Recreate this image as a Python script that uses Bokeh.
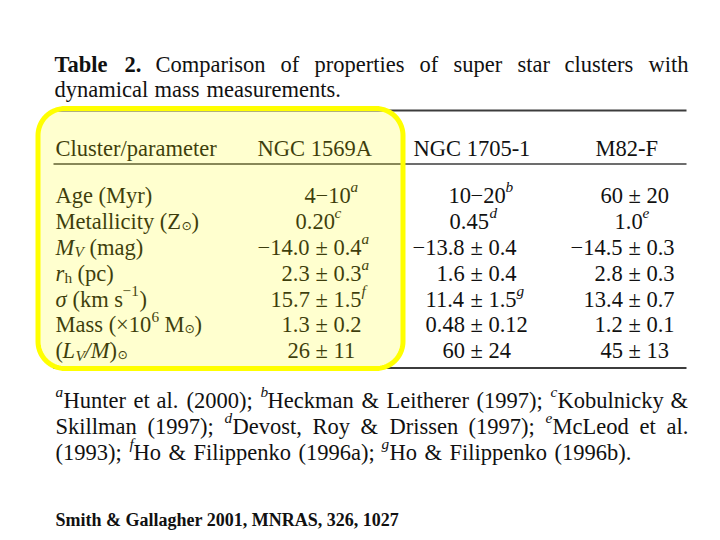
import numpy as np
from bokeh.plotting import figure
from bokeh.models import ColumnDataSource, Range1d
from bokeh.core.properties import value
from bokeh.embed import file_html
from bokeh.resources import INLINE

# ---------------- data ----------------
title_bold = ["Table", "2."]
title_words = ["Comparison", "of", "properties", "of", "super", "star", "clusters", "with"]
title_line2 = ["dynamical", "mass", "measurements."]

col_headers = ["Cluster/parameter", "NGC 1569A", "NGC 1705-1", "M82-F"]

param_labels = [
    [("Age (Myr)", "r")],
    [("Metallicity (Z", "r"), ("\u2299", "sym"), (")", "r")],
    [("M", "i"), ("V", "subi"), (" (mag)", "r")],
    [("r", "i"), ("h", "sub"), (" (pc)", "r")],
    [("\u03c3", "i"), (" (km s", "r"), ("\u22121", "sup"), (")", "r")],
    [("Mass (\u00d710", "r"), ("6", "sup"), (" M", "r"), ("\u2299", "sym"), (")", "r")],
    [("(", "r"), ("L", "i"), ("V", "subi"), ("/M", "i"), (")", "r"), ("\u2299", "sym")],
]

ngc1569a = ["4\u221210", "0.20", "\u221214.0 \u00b1 0.4", "2.3 \u00b1 0.3", "15.7 \u00b1 1.5", "1.3 \u00b1 0.2", "26 \u00b1 11"]
ngc1569a_ref = ["a", "c", "a", "a", "f", "", ""]
ngc1705 = ["10\u221220", "0.45", "\u221213.8 \u00b1 0.4", "1.6 \u00b1 0.4", "11.4 \u00b1 1.5", "0.48 \u00b1 0.12", "60 \u00b1 24"]
ngc1705_ref = ["b", "d", "", "", "g", "", ""]
m82f = ["60 \u00b1 20", "1.0", "\u221214.5 \u00b1 0.3", "2.8 \u00b1 0.3", "13.4 \u00b1 0.7", "1.2 \u00b1 0.1", "45 \u00b1 13"]
m82f_ref = ["", "e", "", "", "", "", ""]

footnote_keys = ["a", "b", "c", "d", "e", "f", "g"]
footnote_refs = ["Hunter et al. (2000);", "Heckman & Leitherer (1997);",
                 "Kobulnicky & Skillman (1997);", "Devost, Roy & Drissen (1997);",
                 "McLeod et al. (1993);", "Ho & Filippenko (1996a);",
                 "Ho & Filippenko (1996b)."]
footnote_breaks = [10, 10]   # words per justified line

citation = "Smith & Gallagher 2001, MNRAS, 326, 1027"

# ---------------- font metrics (Times-compatible, /1000 em) ----------------
SERIF = "Liberation Serif"
SYMF = "DejaVu Sans"
TXT = "#111111"

TR = {' ': 250, '&': 778, '(': 333, ')': 333, ',': 250, '-': 333, '.': 250, '/': 278,
      ';': 278, ':': 278, '\u00b1': 564, '\u00d7': 564, '\u2212': 564}
TR.update({d: 500 for d in '0123456789'})
TR.update(dict(zip('ABCDEFGHIJKLMNOPQRSTUVWXYZ',
                   [722, 667, 667, 722, 611, 556, 722, 722, 333, 389, 722, 611, 889, 722, 722,
                    556, 722, 667, 556, 611, 722, 722, 944, 722, 722, 611])))
TR.update(dict(zip('abcdefghijklmnopqrstuvwxyz',
                   [444, 500, 444, 500, 444, 333, 500, 500, 278, 278, 500, 278, 778, 500, 500,
                    500, 500, 333, 389, 278, 500, 500, 722, 500, 500, 444])))
TB = {' ': 250, '&': 833, ',': 250, '.': 250}
TB.update({d: 500 for d in '0123456789'})
TB.update(dict(zip('ABCDEFGHIJKLMNOPQRSTUVWXYZ',
                   [722, 667, 722, 722, 667, 611, 778, 778, 389, 500, 778, 667, 944, 722, 778,
                    611, 778, 722, 556, 667, 722, 722, 1000, 722, 722, 667])))
TB.update(dict(zip('abcdefghijklmnopqrstuvwxyz',
                   [500, 556, 444, 556, 444, 333, 500, 556, 278, 333, 556, 278, 833, 556, 500,
                    556, 556, 444, 389, 333, 556, 500, 722, 500, 500, 444])))
TI = {' ': 250, '/': 278, '\u03c3': 500}
TI.update(dict(zip('ABCDEFGHIJKLMNOPQRSTUVWXYZ',
                   [611, 611, 667, 722, 611, 611, 722, 722, 333, 444, 667, 556, 833, 667, 722,
                    611, 722, 611, 500, 556, 722, 611, 833, 611, 556, 556])))
TI.update(dict(zip('abcdefghijklmnopqrstuvwxyz',
                   [500, 500, 444, 500, 444, 278, 500, 500, 278, 278, 444, 278, 722, 500, 500,
                    500, 500, 389, 389, 278, 500, 444, 667, 444, 444, 389])))
SYM = {'\u2299': 838}

KINDS = {
    'r':    (SERIF, 'normal', 1.0, 0.0, TR),
    'b':    (SERIF, 'bold', 1.0, 0.0, TB),
    'i':    (SERIF, 'italic', 1.0, 0.0, TI),
    'sup':  (SERIF, 'normal', 0.68, -0.36, TR),
    'supi': (SERIF, 'italic', 0.68, -0.38, TI),
    'sub':  (SERIF, 'normal', 0.68, 0.2, TR),
    'subi': (SERIF, 'italic', 0.68, 0.2, TI),
    'sym':  (SYMF, 'normal', 0.55, 0.17, SYM),
}

groups = {}   # (font, style) -> columns


def run_w(s, kind, size):
    font, style, sc, dy, tab = KINDS[kind]
    return sum(tab.get(c, TR.get(c, 500)) for c in s) / 1000.0 * size * sc


def runs_w(runs, size):
    return sum(run_w(s, k, size) for s, k in runs)


def draw(x, y, runs, size):
    for s, k in runs:
        font, style, sc, dy, tab = KINDS[k]
        stripped = s.lstrip(" ")
        lead = s[:len(s) - len(stripped)]
        x0 = x + run_w(lead, k, size)
        body = stripped.rstrip(" ")
        if body:
            g = groups.setdefault((font, style), dict(x=[], y=[], text=[], size=[]))
            g['x'].append(float(round(x0)))
            g['y'].append(float(round(y + dy * size)))
            g['text'].append(body)
            g['size'].append("%.1fpx" % (size * sc))
        x += run_w(s, k, size)
    return x


def justify(words, x0, x1, y, size):
    ws = [runs_w(w, size) for w in words]
    gap = (x1 - x0 - sum(ws)) / (len(words) - 1)
    x = x0
    for w, wd in zip(words, ws):
        draw(x, y, w, size)
        x += wd + gap


def natural(words, x0, y, size, space=0.3):
    x = x0
    for w in words:
        x = draw(x, y, w, size) + space * size


def parse_word(wd):
    if wd.startswith("{"):
        k, rest = wd[1:].split("}", 1)
        return [(k, 'supi'), (rest, 'r')]
    return [(wd, 'r')]


# ---------------- layout ----------------
FS = 22.5
RIGHT = 688.0

# title
words1 = [[(w, 'b')] for w in title_bold] + [[(w, 'r')] for w in title_words]
justify(words1, 53.5, RIGHT, 64.0, FS)
natural([[(w, 'r')] for w in title_line2], 54.0, 89.0, FS)

# header
header_x = [55.0, 257.0, 413.0, 595.0]
for hx, h in zip(header_x, col_headers):
    draw(hx, 148.0, [(h, 'r')], FS)

# rows
row_y0, row_dy = 195.0, 25.9
for i, lab in enumerate(param_labels):
    draw(55.0, row_y0 + i * row_dy, lab, FS)

anchors = [315.0, 470.0, 628.0]
for anchor, vals, refs in zip(anchors, [ngc1569a, ngc1705, m82f],
                              [ngc1569a_ref, ngc1705_ref, m82f_ref]):
    for i, (v, r) in enumerate(zip(vals, refs)):
        y = row_y0 + i * row_dy
        sup = [(r, 'supi')] if r else []
        if '\u00b1' in v:
            j = v.index('\u00b1')
        elif '\u2212' in v[1:]:
            j = v.index('\u2212', 1)
        else:
            j = None
        if j is not None:
            left, right = v[:j], v[j:]
            x = anchor - run_w(left, 'r', FS)
            draw(x, y, [(left, 'r'), (right, 'r')] + sup, FS)
        else:
            runs = [(v, 'r')] + sup
            x = anchor + 3.0 - runs_w(runs, FS) / 2.0
            draw(x, y, runs, FS)

# footnotes
fn_words = []
for k, ref in zip(footnote_keys, footnote_refs):
    parts = ref.split(" ")
    parts[0] = "{" + k + "}" + parts[0]
    fn_words += [parse_word(w) for w in parts]
fn_y0, fn_dy = 400.0, 25.8
start = 0
for li, n in enumerate(footnote_breaks):
    justify(fn_words[start:start + n], 55.0, RIGHT, fn_y0 + li * fn_dy, FS)
    start += n
natural(fn_words[start:], 55.0, fn_y0 + len(footnote_breaks) * fn_dy, FS, space=0.33)

# citation
draw(55.0, 519.0, [(citation, 'b')], 18.0)

# ---------------- figure ----------------
p = figure(width=712, height=532, x_range=Range1d(0, 712), y_range=Range1d(532, 0),
           output_backend="svg", toolbar_location=None,
           x_axis_location=None, y_axis_location=None, min_border=0)
p.grid.visible = False
p.outline_line_color = None
p.background_fill_color = "white"
p.border_fill_color = "white"

# table rules
rule_y = [110.0, 163.5, 367.5]
rule_w = [2.0, 1.5, 2.0]
for ry, rw in zip(rule_y, rule_w):
    p.line([53.0, 686.0], [ry, ry], line_color="#3c3c3c", line_width=rw)

for (font, style), cols in groups.items():
    p.text(x='x', y='y', text='text', source=ColumnDataSource(cols),
           text_font_size='size', text_font_style=style, text_font=value(font),
           text_color=TXT, text_align='left', text_baseline='alphabetic')

# yellow rounded highlight box
def rrect(x0, y0, x1, y1, r, n=20):
    xs, ys = [], []
    for cx, cy, a0 in [(x1 - r, y0 + r, -90), (x1 - r, y1 - r, 0),
                       (x0 + r, y1 - r, 90), (x0 + r, y0 + r, 180)]:
        t = np.radians(np.linspace(a0, a0 + 90, n))
        xs += list(cx + r * np.cos(t))
        ys += list(cy + r * np.sin(t))
    return xs, ys

bx, by = rrect(37.5, 108.0, 402.5, 368.0, 27.0)
p.patch(bx, by, fill_color="#FFFF00", fill_alpha=0.19,
        line_color="#FFFF00", line_width=5)

open("out.html", "w").write(file_html(p, INLINE))
